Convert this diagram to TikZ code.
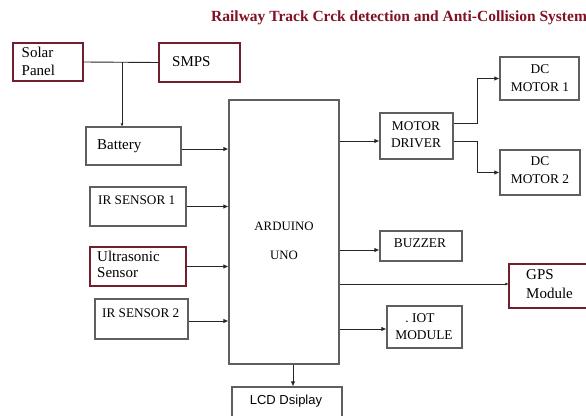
\documentclass[tikz,border=0pt]{standalone}
\usepackage{fontspec}
\setmainfont{Liberation Serif}
\newfontfamily\lcdfont{Liberation Sans}
\usetikzlibrary{arrows.meta}
\definecolor{maroonb}{RGB}{115,30,45}
\definecolor{grayb}{RGB}{95,95,95}
\definecolor{titlered}{RGB}{128,18,36}
\tikzset{
  box/.style={draw=grayb,line width=1.1pt,inner sep=0pt,minimum width=#1},
  mbox/.style={draw=maroonb,line width=1.1pt,inner sep=0pt},
  lbl/.style={inner sep=0pt,font=\fontsize{15}{17}\selectfont,anchor=west},
  capl/.style={inner sep=0pt,font=\fontsize{13.2}{15}\selectfont,anchor=west},
  clbl/.style={inner sep=0pt,font=\fontsize{13.4}{15}\selectfont,align=center},
  arr/.style={draw=black!85,line width=0.9pt,-{Latex[length=5pt,width=4.5pt]}},
  sarr/.style={draw=black!85,line width=0.9pt,-{Latex[length=3pt,width=3pt]}},
  conn/.style={draw=black!85,line width=0.9pt}
}
\begin{document}
\begin{tikzpicture}[x=1pt,y=-1pt]
\useasboundingbox[fill=white] (0,0) rectangle (586,415);
% title
\node[inner sep=0pt,anchor=west,text=titlered,font=\fontsize{15.5}{17}\selectfont\bfseries] (title) at (211,18) {Railway Track Crck detection and Anti-Collision System};
% boxes
\node[mbox,minimum width=70pt,minimum height=38pt] (solar) at (48,62) {};
\node[mbox,minimum width=81pt,minimum height=39pt] (smps) at (199.5,62.5) {};
\node[box=95pt,minimum height=38pt] (bat) at (133.5,146) {};
\node[box=96pt,minimum height=39pt] (ir1) at (138,206.5) {};
\node[mbox,minimum width=96pt,minimum height=39pt] (ultra) at (138,266.5) {};
\node[box=93pt,minimum height=40pt] (ir2) at (141.5,319) {};
\node[box=110pt,minimum height=264pt] (ard) at (284,232) {};
\node[box=73pt,minimum height=46pt] (md) at (416.5,136) {};
\node[box=79pt,minimum height=43pt] (dc1) at (539.5,78.5) {};
\node[box=80pt,minimum height=45pt] (dc2) at (540,172.5) {};
\node[box=82pt,minimum height=30pt] (buz) at (421,246) {};
\node[mbox,minimum width=91pt,minimum height=44pt] (gps) at (554.5,286) {};
\node[box=75pt,minimum height=42pt] (iot) at (424.5,327) {};
\node[box=110pt,minimum height=38pt] (lcd) at (287,406) {};
% texts
\node[lbl] (tsolar1) at (21.5,52) {Solar};
\node[lbl] (tsolar2) at (21.5,70) {Panel};
\node[lbl] (tsmps) at (172,62) {SMPS};
\node[lbl] (tbat) at (97,146) {Battery};
\node[capl] (tir1) at (98,200) {IR SENSOR 1};
\node[lbl] (tul1) at (97,256) {Ultrasonic};
\node[lbl] (tul2) at (97,273) {Sensor};
\node[capl] (tir2) at (102,313) {IR SENSOR 2};
\node[clbl,font=\fontsize{12.8}{15}\selectfont] (tard1) at (284,226) {ARDUINO};
\node[clbl,font=\fontsize{12.8}{15}\selectfont] (tard2) at (284,255) {UNO};
\node[clbl] (tmd1) at (416,126) {MOTOR};
\node[clbl] (tmd2) at (416,143) {DRIVER};
\node[clbl] (tdc1a) at (540,69) {DC};
\node[clbl] (tdc1b) at (540,87) {MOTOR 1};
\node[clbl] (tdc2a) at (540,161) {DC};
\node[clbl] (tdc2b) at (540,179) {MOTOR 2};
\node[clbl] (tbuz) at (420,243) {BUZZER};
\node[lbl] (tgps1) at (526,275) {GPS};
\node[lbl] (tgps2) at (526,293) {Module};
\node[clbl] (tiot1) at (420,318) {.\ IOT};
\node[clbl] (tiot2) at (424,335) {MODULE};
\node[inner sep=0pt,font=\lcdfont\fontsize{13}{15}\selectfont] (tlcd) at (286,401) {LCD Dsiplay};
% connectors
\draw[conn] (solar.east) -- (smps.west);
\coordinate (jn) at (122,62);
\draw[sarr] (jn) -- (jn |- bat.north);
\draw[arr] ([yshift=-3pt]bat.east) -- ([yshift=-3pt]bat.east -| ard.west);
\draw[arr] (ir1.east) -- (ir1.east -| ard.west);
\draw[arr] (ultra.east) -- (ultra.east -| ard.west);
\draw[arr] ([yshift=-2pt]ir2.east) -- ([yshift=-2pt]ir2.east -| ard.west);
\draw[arr] ([yshift=-5pt]md.west -| ard.east) -- ([yshift=-5pt]md.west);
\draw[arr] ([yshift=13pt]md.east) -- ++(24,0) |- (dc1.west);
\draw[arr] ([yshift=-5pt]md.east) -- ++(24,0) |- (dc2.west);
\draw[arr] ([yshift=-4pt]buz.west -| ard.east) -- ([yshift=-4pt]buz.west);
\draw[sarr] ([yshift=2pt]gps.west -| ard.east) -- ([yshift=2pt]gps.west);
\draw[arr] ([yshift=-2pt]iot.west -| ard.east) -- ([yshift=-2pt]iot.west);
\draw[arr] ([xshift=6pt]lcd.north |- ard.south) -- ([xshift=6pt]lcd.north);
\end{tikzpicture}
\end{document}
